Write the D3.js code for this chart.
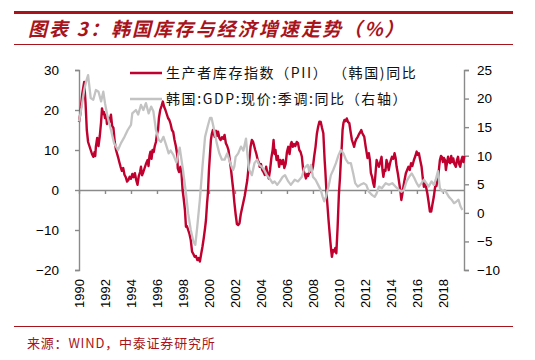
<!DOCTYPE html>
<html><head><meta charset="utf-8">
<script src="https://cdn.jsdelivr.net/npm/d3@7"></script>
<style>
html,body{margin:0;padding:0;background:#fff;}
svg{display:block;}
</style></head>
<body>
<svg id="chart" width="535" height="360"></svg>
<script>
// ---- data ----
const titleText = "图表 3：韩国库存与经济增速走势（%）";
const sourceText = "来源：WIND，中泰证券研究所";
const seriesNames = ["生产者库存指数（PII） （韩国)同比", "韩国:GDP:现价:季调:同比（右轴）"];
const xTickYears = [1990,1992,1994,1996,1998,2000,2002,2004,2006,2008,2010,2012,2014,2016,2018];
const leftTicks = [-20,-10,0,10,20,30];
const rightTicks = [-10,-5,0,5,10,15,20,25];

// PII (left axis) – time (decimal year) and value
const piiTime = [1990.0,1990.1,1990.25,1990.4,1990.5,1990.6,1990.7,1990.8,1990.9,1991.0,1991.1,1991.2,1991.25,1991.3,1991.4,1991.5,1991.6,1991.7,1991.77,1991.85,1991.92,1992.0,1992.08,1992.15,1992.25,1992.35,1992.46,1992.55,1992.65,1992.75,1992.85,1993.0,1993.1,1993.2,1993.3,1993.4,1993.5,1993.6,1993.7,1993.8,1993.9,1994.0,1994.1,1994.2,1994.3,1994.4,1994.5,1994.6,1994.7,1994.77,1994.85,1994.95,1995.05,1995.15,1995.28,1995.35,1995.42,1995.5,1995.58,1995.66,1995.75,1995.83,1995.92,1996.0,1996.08,1996.15,1996.25,1996.35,1996.45,1996.55,1996.65,1996.75,1996.85,1996.95,1997.05,1997.15,1997.25,1997.35,1997.45,1997.55,1997.6,1997.7,1997.8,1997.87,1997.97,1998.05,1998.15,1998.23,1998.3,1998.4,1998.5,1998.6,1998.7,1998.8,1998.9,1999.0,1999.1,1999.2,1999.3,1999.4,1999.5,1999.6,1999.7,1999.77,1999.85,1999.92,2000.0,2000.08,2000.15,2000.22,2000.3,2000.38,2000.45,2000.55,2000.62,2000.7,2000.8,2000.9,2001.0,2001.1,2001.2,2001.3,2001.4,2001.5,2001.6,2001.7,2001.8,2001.87,2001.95,2002.05,2002.15,2002.25,2002.35,2002.45,2002.55,2002.65,2002.75,2002.85,2002.95,2003.05,2003.12,2003.2,2003.3,2003.4,2003.48,2003.56,2003.65,2003.75,2003.83,2003.9,2004.0,2004.1,2004.2,2004.3,2004.4,2004.5,2004.6,2004.7,2004.8,2004.9,2004.97,2005.05,2005.12,2005.2,2005.3,2005.4,2005.5,2005.6,2005.7,2005.8,2005.9,2006.0,2006.1,2006.2,2006.3,2006.36,2006.45,2006.55,2006.65,2006.75,2006.85,2006.95,2007.05,2007.15,2007.25,2007.35,2007.46,2007.55,2007.62,2007.7,2007.8,2007.9,2008.0,2008.1,2008.2,2008.3,2008.4,2008.5,2008.6,2008.7,2008.8,2008.9,2008.95,2009.05,2009.12,2009.2,2009.33,2009.4,2009.46,2009.55,2009.64,2009.72,2009.8,2009.9,2009.95,2010.0,2010.08,2010.15,2010.22,2010.28,2010.35,2010.42,2010.5,2010.6,2010.7,2010.8,2010.9,2011.0,2011.1,2011.17,2011.25,2011.35,2011.45,2011.55,2011.65,2011.72,2011.8,2011.9,2011.95,2012.05,2012.12,2012.2,2012.3,2012.38,2012.46,2012.55,2012.64,2012.72,2012.8,2012.9,2013.0,2013.08,2013.18,2013.28,2013.35,2013.42,2013.5,2013.58,2013.66,2013.75,2013.83,2013.92,2014.0,2014.08,2014.18,2014.28,2014.36,2014.44,2014.54,2014.64,2014.72,2014.8,2014.88,2014.96,2015.05,2015.15,2015.25,2015.35,2015.45,2015.55,2015.65,2015.77,2015.88,2015.98,2016.06,2016.15,2016.25,2016.36,2016.45,2016.54,2016.62,2016.7,2016.8,2016.9,2017.0,2017.1,2017.2,2017.3,2017.4,2017.5,2017.58,2017.64,2017.72,2017.77,2017.85,2017.92,2018.0,2018.08,2018.16,2018.23,2018.3,2018.4,2018.48,2018.56,2018.64,2018.72,2018.8,2018.88,2019.0,2019.08,2019.16,2019.25,2019.33,2019.42,2019.5,2019.58,2019.65];
const piiValue = [17,19,24,27,22,15,12,11,10,9,8.3,9.5,8.5,10.8,13,11,13.5,17,20.4,19,19.5,18,18.8,16.5,18,17,18.8,16,15.5,12,10,8.3,7,5.8,4.8,5.5,3.8,3.2,2.1,2.5,3.3,2.8,4,3.2,4.2,2.5,1.3,3.5,4.5,5.8,3.7,4.5,5.5,6.5,7.5,6,8.5,9.6,7.8,10,9.5,11,12,14,15,18,20,21,22.1,20.8,20,19,18,17.5,16.5,15,14.5,12.5,11,9,5.4,4.5,5.8,5,0,-2,-5,-9.2,-9,-10,-11,-12.5,-15.4,-16,-16.7,-16.5,-17.5,-17,-17.9,-16,-14.2,-12,-9.5,-7.5,-3.5,-0.8,5,9,12.5,14,15,14,13.3,14.8,13.5,14.6,13,12.5,13.2,12.8,13.75,11.7,11,10,7.5,5,2,0,-3,-6,-8.5,-8.75,-8.3,-6,-4.5,-3,-1.5,0.5,2.5,5.8,8,10.8,12.5,12,11,10,9,7.5,7,5.8,6.5,5,4.5,3.75,5.8,4,2.9,5,8,10,12.5,9,10,7.5,8.5,5.8,7.5,6.5,7.5,5.5,6.5,9.5,10.8,9,11.5,12,10.8,11.5,11,12,11.7,10,9.5,8.3,5,4.2,2.9,4,3.5,4.2,5,4.5,5.8,8.5,10.8,14,15.8,17.1,17,15.5,14.2,7.5,5,-1,-4,-7.5,-12.5,-15,-16.7,-15,-15.4,-14.5,-15.8,-9.2,-5,-0.8,3,7.5,11,15,16.8,17.5,17.2,17.9,17,16.7,14.5,12.5,11.5,10.8,12,12.8,13.3,14,14.5,15,14.2,13.6,13.3,11,9.6,8,9.2,7.5,4.2,3.3,1.7,0.8,3.5,7.5,6.5,5.8,7,8.3,5,3.3,5,4.8,7.5,6.5,5,6.5,7.5,8.3,7.8,9.2,8,5.8,4,1.7,0,-2.5,-1,0.8,2.5,4.2,5,5.8,5,6.7,6,7.5,8.5,9.6,8.8,9.2,7.5,5.8,3,0.8,1.5,0.8,-0.8,-3,-5.4,-5.4,-3.5,-1.7,0.8,1,2.5,3.3,6,7.5,8.5,8.3,7,8,7.5,5,6.5,8.3,7,6.7,8.5,7,7.9,6.5,5.8,7.5,8.3,6.5,5.8,7.5,8.3,7,8.5];

// GDP (right axis)
const gdpTime = [1990.0,1990.2,1990.4,1990.55,1990.7,1990.9,1991.1,1991.3,1991.5,1991.7,1991.87,1992.0,1992.2,1992.46,1992.7,1993.0,1993.23,1993.5,1993.75,1994.0,1994.1,1994.38,1994.55,1994.77,1994.95,1995.15,1995.36,1995.55,1995.72,1995.92,1996.13,1996.3,1996.5,1996.7,1996.9,1997.05,1997.25,1997.5,1997.75,1998.0,1998.23,1998.4,1998.6,1998.8,1998.95,1999.1,1999.3,1999.5,1999.7,1999.9,2000.08,2000.2,2000.4,2000.6,2000.8,2001.0,2001.2,2001.4,2001.64,2001.85,2001.95,2002.05,2002.25,2002.46,2002.65,2002.85,2002.95,2003.1,2003.3,2003.5,2003.7,2003.87,2004.05,2004.25,2004.45,2004.64,2004.9,2005.05,2005.25,2005.45,2005.67,2005.85,2006.1,2006.3,2006.6,2006.85,2007.15,2007.33,2007.6,2007.72,2007.85,2008.0,2008.2,2008.4,2008.6,2008.75,2008.87,2009.0,2009.2,2009.38,2009.56,2009.77,2009.97,2010.15,2010.35,2010.54,2010.72,2010.92,2011.1,2011.25,2011.45,2011.65,2011.9,2012.1,2012.3,2012.56,2012.75,2012.9,2013.08,2013.3,2013.6,2013.85,2014.1,2014.35,2014.64,2014.8,2015.0,2015.2,2015.4,2015.6,2015.8,2015.98,2016.15,2016.35,2016.54,2016.72,2016.9,2017.13,2017.3,2017.45,2017.62,2017.77,2017.98,2018.15,2018.3,2018.46,2018.67,2018.85,2019.0,2019.2,2019.36,2019.5];
const gdpValue = [16,18.5,21.5,23,24.1,20.1,19.8,21.5,21.2,19.5,21.2,19.2,16.8,14.5,12.2,11.0,12.2,13.3,14.5,15.4,17.4,18.0,17.2,18.9,18.0,19.2,17.4,18.6,17.8,14.5,12.8,12.4,13.3,11.9,10.4,10.9,10.2,8.8,11.4,7.5,3.4,-0.1,-3.0,-5.0,-5.6,-2.4,2.3,8.1,13.3,15.1,16.6,16.6,14.5,12.2,10.4,9.3,9.3,10.4,8.7,7.5,8.1,9.8,10.4,11.6,10.9,13.0,10.4,7.5,6.6,8.7,9.3,8.4,8.1,7.5,6.6,6.1,5.2,5.5,4.9,5.5,6.3,6.6,5.5,4.9,5.8,5.5,6.3,7.8,8.4,7.2,8.4,6.3,5.8,4.9,4.0,2.8,2.0,2.8,4.6,6.6,7.5,8.7,10.1,11.0,10.4,9.3,8.7,8.7,6.9,5.2,4.6,4.9,5.2,4.9,3.7,3.1,2.8,3.4,4.6,4.3,5.2,4.9,5.2,4.6,4.0,3.7,4.0,5.5,6.3,6.9,6.1,5.2,4.6,5.2,5.8,5.2,4.6,5.5,4.9,5.8,7.3,4.3,3.7,4.0,3.4,2.8,2.3,1.7,1.9,2.3,1.1,0.5];

// ---- drawing ----
const svg = d3.select("#chart");
const darkRed = "#A8141C";
const redLine = "#C0002E";
const grayLine = "#C3C3C3";
const axisColor = "#8A8A8A";

const x = d3.scaleLinear().domain([1990, 2019.7]).range([79, 465]);
const yL = d3.scaleLinear().domain([-20, 30]).range([270, 70]);
const yR = d3.scaleLinear().domain([-10, 25]).range([270, 70]);

// header lines
svg.append("line").attr("x1",14).attr("x2",513).attr("y1",12.5).attr("y2",12.5).attr("stroke",darkRed).attr("stroke-width",3);
svg.append("line").attr("x1",14).attr("x2",513).attr("y1",44.5).attr("y2",44.5).attr("stroke",darkRed).attr("stroke-width",1);
svg.append("line").attr("x1",14).attr("x2",513).attr("y1",326.5).attr("y2",326.5).attr("stroke",darkRed).attr("stroke-width",1);

svg.append("text").attr("x",28).attr("y",36)
  .attr("fill",darkRed).attr("font-family","'Noto Sans CJK SC', sans-serif")
  .attr("font-size",19).attr("font-weight","bold").attr("font-style","italic")
  .attr("letter-spacing",2.1).text(titleText);

svg.append("text").attr("x",27).attr("y",347.5)
  .attr("fill",darkRed).attr("font-family","'Noto Sans CJK SC', sans-serif")
  .attr("font-size",13).attr("letter-spacing",0.8).text(sourceText);

const tickFont = "'Liberation Sans', Arial, sans-serif";

// left axis
const gL = svg.append("g").attr("transform","translate(79,0)")
  .call(d3.axisLeft(yL).tickValues(leftTicks).tickSize(4).tickPadding(16).tickFormat(d => d < 0 ? "\u2212" + Math.abs(d) : d));
// right axis
const gR = svg.append("g").attr("transform","translate(465,0)")
  .call(d3.axisRight(yR).tickValues(rightTicks).tickSize(4).tickPadding(8).tickFormat(d => d < 0 ? "\u2212" + Math.abs(d) : d));
// x axis at zero of left
const gX = svg.append("g").attr("transform",`translate(0,${yL(0)})`)
  .call(d3.axisBottom(x).tickValues(xTickYears).tickSize(4).tickFormat(""));

[gL,gR,gX].forEach(g => {
  g.select(".domain").attr("stroke",axisColor).attr("stroke-width",1.4);
  g.selectAll(".tick line").attr("stroke",axisColor).attr("stroke-width",1.4);
  g.selectAll(".tick text").attr("fill","#000").attr("font-family",tickFont).attr("font-size",13.5);
});
gL.select(".domain").attr("d","M-4,70.5H0.5V270.5H-4");
gR.select(".domain").attr("d","M4,70.5H-0.5V270.5H4");
gX.select(".domain").attr("d",`M79,0.5H465`);

// rotated year labels
svg.append("g").selectAll("text").data(xTickYears).join("text")
  .attr("transform", d => `translate(${x(d)},279) rotate(-90)`)
  .attr("text-anchor","end").attr("dy","0.36em")
  .attr("font-family",tickFont).attr("font-size",13).attr("fill","#000")
  .text(d => d);

// lines
const piiData = piiTime.map((t,i) => [t, piiValue[i]]);
const gdpData = gdpTime.map((t,i) => [t, gdpValue[i]]);

svg.append("path").datum(piiData)
  .attr("fill","none").attr("stroke",redLine).attr("stroke-width",2.4).attr("stroke-linejoin","round")
  .attr("d", d3.line().x(d => x(d[0])).y(d => yL(d[1])));
svg.append("path").datum(gdpData)
  .attr("fill","none").attr("stroke",grayLine).attr("stroke-width",2.3).attr("stroke-linejoin","round")
  .attr("d", d3.line().x(d => x(d[0])).y(d => yR(d[1])));

// legend
const legend = svg.append("g");
const legendColors = [redLine, grayLine];
const legendY = [73, 99];
seriesNames.forEach((name, i) => {
  legend.append("line").attr("x1",130).attr("x2",162).attr("y1",legendY[i]).attr("y2",legendY[i])
    .attr("stroke",legendColors[i]).attr("stroke-width",2.5);
  legend.append("text").attr("x",166).attr("y",legendY[i]).attr("dy","0.36em")
    .attr("font-family","'Noto Sans CJK SC', sans-serif").attr("font-size",14)
    .attr("letter-spacing",1.6).attr("fill","#111").attr("xml:space","preserve").style("white-space","pre").text(name);
});
</script>
</body></html>
